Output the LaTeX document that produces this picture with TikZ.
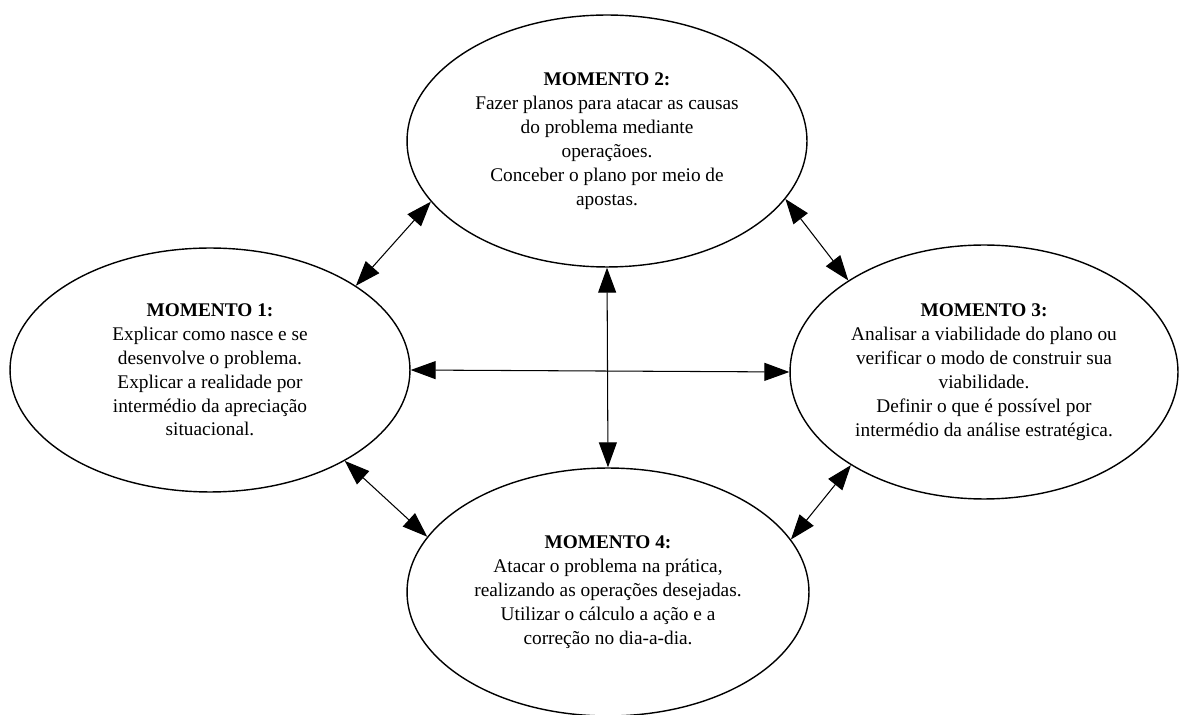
\documentclass[tikz,border=0pt]{standalone}
\usepackage{fontspec}
\setmainfont{Liberation Serif}
\usetikzlibrary{arrows.meta,shapes.geometric}

\begin{document}
\begin{tikzpicture}[x=0.02cm,y=-0.02cm,
    moment/.style={ellipse,draw,line width=0.8pt,inner sep=0pt,align=center,
      font=\fontsize{11}{13.6}\selectfont},
    link/.style={{Triangle[length=0.5cm,width=0.36cm]}-{Triangle[length=0.5cm,width=0.36cm]},
      line width=0.6pt}]
    % Canvas
    \useasboundingbox (0,0) rectangle (1179,715);

    % Moments
    \node[moment,minimum width=8cm,minimum height=4.88cm] (m1) at (210,370)
      {\textbf{MOMENTO 1:}\\Explicar como nasce e se\\desenvolve o problema.\\
       Explicar a realidade por\\intermédio da apreciação\\situacional.};
    \node[moment,minimum width=8cm,minimum height=5.04cm] (m2) at (607,141)
      {\textbf{MOMENTO 2:}\\Fazer planos para atacar as causas\\do problema mediante\\
       operaçãoes.\\Conceber o plano por meio de\\apostas.};
    \node[moment,minimum width=7.76cm,minimum height=5.08cm] (m3) at (984,372)
      {\textbf{MOMENTO 3:}\\Analisar a viabilidade do plano ou\\verificar o modo de construir sua\\
       viabilidade.\\Definir o que é possível por\\intermédio da análise estratégica.};
    \node[moment,minimum width=8.04cm,minimum height=4.96cm] (m4) at (608,592)
      {\textbf{MOMENTO 4:}\\Atacar o problema na prática,\\realizando as operações desejadas.\\
       Utilizar o cálculo a ação e a\\correção no dia-a-dia.};

    % Links between moments
    \draw[link] (m1.30) -- (m2.-161);
    \draw[link] (m2.-18) -- (m3.146);
    \draw[link] (m1.-34) -- (m4.163);
    \draw[link] (m3.-145) -- (m4.16);
    \draw[link] (m1.east) -- (m3.west);
    \draw[link] (m2.south) -- (m4.north);
\end{tikzpicture}
\end{document}
